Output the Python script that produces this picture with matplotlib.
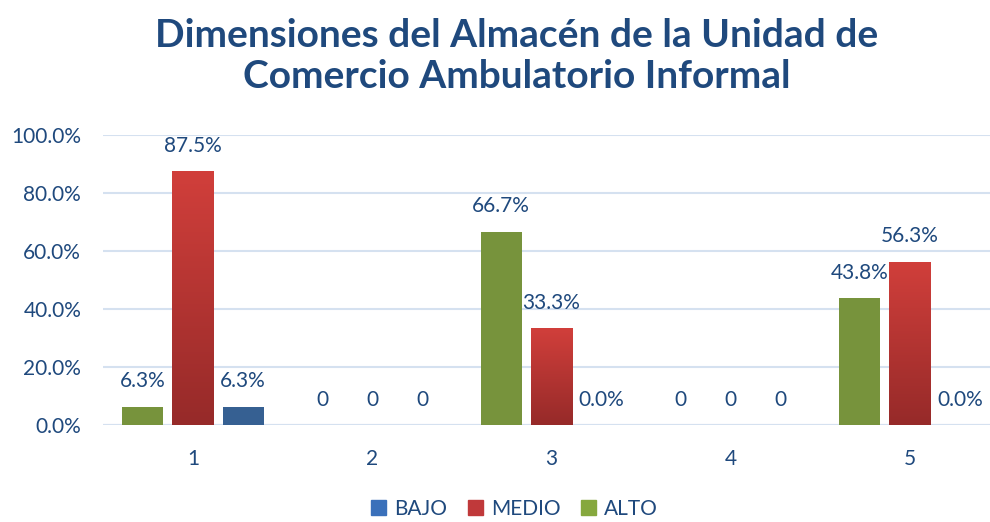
import numpy as np
import matplotlib
matplotlib.use("Agg")
import matplotlib.pyplot as plt
from matplotlib.patches import Patch
from matplotlib.colors import LinearSegmentedColormap

plt.rcParams['font.family'] = ['Lato', 'DejaVu Sans']

categories = ['1', '2', '3', '4', '5']
alto = [6.3, 0, 66.7, 0, 43.8]
medio = [87.5, 0, 33.3, 0, 56.3]
bajo = [6.3, 0, 0.0, 0, 0.0]
alto_labels = ['6.3%', '0', '66.7%', '0', '43.8%']
medio_labels = ['87.5%', '0', '33.3%', '0', '56.3%']
bajo_labels = ['6.3%', '0', '0.0%', '0', '0.0%']
yticks = [0, 20, 40, 60, 80, 100]

TEXT = '#1F497D'
GRID = '#D5E1F0'

fig = plt.figure(figsize=(9.9, 5.22), dpi=100)
ax = fig.add_axes([0.1045, 0.1858, 0.905, 0.5556])

x = np.arange(1, len(categories) + 1)
width = 0.23
offset = 0.28

red_cmap = LinearSegmentedColormap.from_list('red', ['#962A29', '#D13F3B'])
grad = np.linspace(0, 1, 256).reshape(-1, 1)

series = [
    (alto, alto_labels, -offset, '#77933C'),
    (medio, medio_labels, 0.0, None),
    (bajo, bajo_labels, offset, '#366092'),
]

for vals, labs, off, col in series:
    bars = ax.bar(x + off, vals, width, color=col if col else '#B83534',
                  zorder=3, linewidth=0)
    if col is None:
        for b in bars:
            if b.get_height() <= 0:
                continue
            im = ax.imshow(grad, cmap=red_cmap, aspect='auto', origin='lower',
                           extent=[b.get_x(), b.get_x() + b.get_width(), 0, b.get_height()],
                           zorder=3.5)
            im.set_clip_path(b)
    for xi, v, lab in zip(x + off, vals, labs):
        ax.annotate(lab, (xi, v), xytext=(0, 11), textcoords='offset points',
                    ha='center', va='bottom', fontsize=15, color=TEXT, zorder=5)

ax.set_xlim(0.5, 5.5)
ax.set_ylim(0, 100)
ax.set_yticks(yticks)
ax.set_yticklabels([f'{t:.1f}%' for t in yticks])
ax.set_xticks(x)
ax.set_xticklabels(categories)
ax.yaxis.grid(True, color=GRID, linewidth=1.5, zorder=0)
ax.set_axisbelow(True)
for s in ax.spines.values():
    s.set_visible(False)
ax.axhline(0, color=GRID, linewidth=1.5, zorder=2)
ax.tick_params(axis='both', length=0, labelsize=15, colors=TEXT)
ax.tick_params(axis='y', pad=16)
ax.tick_params(axis='x', pad=17)
ax.set_xlim(0.5, 5.5)

fig.text(0.522, 0.893, 'Dimensiones del Almacén de la Unidad de\nComercio Ambulatorio Informal',
         ha='center', va='center', fontsize=28, fontweight='bold', color=TEXT,
         linespacing=1.2)

handles = [Patch(color='#3A70BA', label='BAJO'),
           Patch(color='#C0393A', label='MEDIO'),
           Patch(color='#86A83E', label='ALTO')]
fig.legend(handles=handles, loc='center', bbox_to_anchor=(0.52, 0.025), ncol=3,
           frameon=False, fontsize=15, labelcolor=TEXT, handlelength=0.7,
           handleheight=0.7, handletextpad=0.4, columnspacing=1.0)

fig.savefig('out.png', dpi=100)
